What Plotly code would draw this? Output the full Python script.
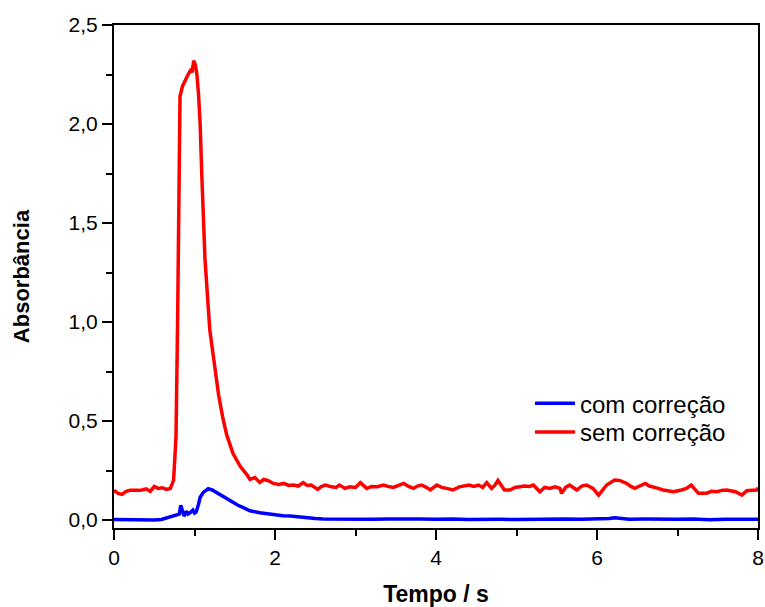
import plotly.graph_objects as go

# ---- data ----
red_x = [0.00,0.05,0.10,0.15,0.20,0.25,0.30,0.35,0.40,0.45,0.50,0.55,0.60,0.65,0.70,0.74,0.77,0.79,0.81,0.82,
         0.85,0.88,0.92,0.95,0.97,0.98,0.99,1.01,1.03,1.05,1.07,1.09,1.13,1.19,1.25,1.30,1.35,1.40,1.48,1.57,
         1.65,1.69,1.75,1.81,1.86,1.91,1.98,2.05,2.11,2.17,2.23,2.29,2.35,2.40,2.45,2.53,2.58,2.63,2.70,2.76,
         2.80,2.87,2.93,3.00,3.06,3.14,3.20,3.27,3.35,3.40,3.47,3.53,3.60,3.66,3.72,3.77,3.82,3.88,3.93,4.01,
         4.07,4.13,4.21,4.29,4.35,4.41,4.47,4.53,4.58,4.63,4.69,4.73,4.77,4.80,4.85,4.92,4.98,5.04,5.10,5.16,
         5.21,5.29,5.35,5.41,5.48,5.54,5.56,5.61,5.66,5.75,5.81,5.87,5.95,6.02,6.07,6.12,6.17,6.22,6.28,6.32,
         6.37,6.42,6.47,6.53,6.60,6.65,6.70,6.76,6.82,6.88,6.95,7.05,7.11,7.17,7.26,7.36,7.42,7.49,7.55,7.61,
         7.66,7.72,7.80,7.86,7.93,7.99,8.00]
red_y = [0.150,0.135,0.130,0.145,0.150,0.148,0.150,0.152,0.158,0.145,0.170,0.160,0.163,0.155,0.160,0.200,0.420,1.000,1.900,2.140,
         2.190,2.220,2.250,2.270,2.262,2.290,2.320,2.300,2.250,2.150,2.000,1.750,1.320,0.960,0.780,0.630,0.520,0.430,0.335,0.270,
         0.230,0.205,0.215,0.190,0.205,0.200,0.185,0.180,0.185,0.175,0.177,0.172,0.189,0.175,0.177,0.155,0.170,0.177,0.168,0.165,
         0.177,0.160,0.168,0.165,0.189,0.160,0.170,0.168,0.177,0.170,0.165,0.175,0.185,0.170,0.160,0.172,0.177,0.165,0.152,0.177,
         0.165,0.160,0.152,0.168,0.172,0.177,0.170,0.177,0.165,0.189,0.160,0.175,0.200,0.180,0.152,0.152,0.165,0.168,0.172,0.170,
         0.177,0.143,0.165,0.160,0.168,0.160,0.135,0.165,0.177,0.152,0.172,0.177,0.160,0.126,0.150,0.177,0.190,0.202,0.200,0.195,
         0.185,0.170,0.160,0.172,0.185,0.172,0.168,0.160,0.152,0.148,0.143,0.152,0.160,0.177,0.135,0.135,0.145,0.143,0.150,0.152,
         0.148,0.143,0.126,0.148,0.150,0.152,0.165]

blue_x = [0.00,0.10,0.20,0.30,0.40,0.50,0.59,0.65,0.72,0.78,0.81,0.83,0.85,0.87,0.90,0.92,0.94,0.96,0.98,1.00,
          1.02,1.05,1.07,1.11,1.17,1.22,1.29,1.35,1.42,1.48,1.54,1.60,1.69,1.81,1.90,1.98,2.10,2.19,2.30,2.40,
          2.50,2.60,2.75,2.90,3.00,3.20,3.40,3.60,3.80,4.00,4.20,4.40,4.60,4.80,5.00,5.20,5.40,5.60,5.80,6.00,
          6.10,6.15,6.22,6.30,6.40,6.60,6.80,7.00,7.20,7.40,7.60,7.80,8.00]
blue_y = [0.003,0.002,0.004,0.002,0.003,0.001,0.003,0.010,0.018,0.022,0.030,0.075,0.040,0.020,0.045,0.030,0.035,0.040,0.050,0.035,
          0.040,0.080,0.115,0.140,0.158,0.152,0.135,0.118,0.100,0.088,0.075,0.064,0.047,0.037,0.031,0.028,0.022,0.020,0.015,0.012,
          0.008,0.006,0.005,0.003,0.006,0.004,0.005,0.003,0.005,0.004,0.006,0.003,0.005,0.004,0.003,0.005,0.004,0.006,0.004,0.005,
          0.006,0.008,0.012,0.008,0.004,0.005,0.003,0.004,0.005,0.002,0.004,0.003,0.004]

series_names = ["com correção", "sem correção"]
x_ticks = [0, 2, 4, 6, 8]
y_ticks = [0.0, 0.5, 1.0, 1.5, 2.0, 2.5]

FONT = "Liberation Sans, Arial"

fig = go.Figure()
fig.add_trace(go.Scatter(x=blue_x, y=blue_y, mode="lines", name=series_names[0], showlegend=True,
                         line=dict(color="#0000FF", width=3.5), legend="legend"))
fig.add_trace(go.Scatter(x=red_x, y=red_y, mode="lines", name=series_names[1], showlegend=True,
                         line=dict(color="#FF0000", width=3.5), legend="legend2"))

axis_common = dict(showline=True, linecolor="black", linewidth=2, mirror=True,
                   showgrid=False, zeroline=False, ticks="outside", tickwidth=1.5,
                   tickcolor="black", ticklen=10, automargin=False,
                   tickfont=dict(family=FONT, size=21, color="black"))

fig.update_xaxes(range=[0, 8], tickvals=x_ticks, ticktext=[str(v) for v in x_ticks],
                 minor=dict(dtick=1, ticks="outside", ticklen=6, tickwidth=1.5, tickcolor="black"),
                 title=dict(text="<b>Tempo / s</b>", standoff=32,
                            font=dict(family=FONT, size=23, color="black")),
                 **axis_common)
fig.update_yaxes(range=[-0.04, 2.5], tickvals=y_ticks,
                 ticktext=[f"{v:.1f}".replace(".", ",") for v in y_ticks],
                 minor=dict(tickvals=[0.25, 0.75, 1.25, 1.75, 2.25], ticks="outside", ticklen=6,
                            tickwidth=1.5, tickcolor="black"),
                 title=dict(text="<b>Absorbância</b>", standoff=33,
                            font=dict(family=FONT, size=22, color="black")),
                 **axis_common)

leg_common = dict(x=0.646, xanchor="left", yanchor="top", bgcolor="rgba(0,0,0,0)",
                  font=dict(family=FONT, size=24, color="black"), itemwidth=40)

fig.update_layout(
    width=765, height=607,
    showlegend=True,
    margin=dict(l=114, r=7, t=25, b=79),
    plot_bgcolor="white", paper_bgcolor="white",
    legend=dict(y=0.292, visible=True, **leg_common),
    legend2=dict(y=0.2346, visible=True, **leg_common),
)

fig.write_html("out.html")
